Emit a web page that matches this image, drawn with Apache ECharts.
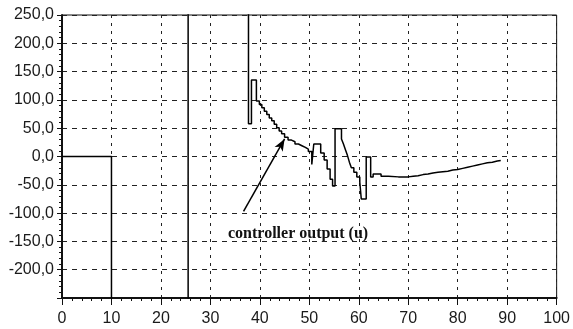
<!DOCTYPE html>
<html>
<head>
<meta charset="utf-8">
<style>
  html, body { margin: 0; padding: 0; background: #fff; }
  #chart { width: 573px; height: 329px; }
</style>
<script src="https://cdn.jsdelivr.net/npm/echarts@6/dist/echarts.min.js"></script>
</head>
<body>
<div id="chart"></div>
<script>
// controller output u(t): each point is (time, value held from that time on)
var times = [0, 10, 25.5, 37.7, 38.3, 39.3,
  39.9, 40.4, 40.9, 41.4, 41.9, 42.4, 42.9, 43.4, 43.9, 44.4, 45.0,
  45.7, 46.4, 47.1, 47.8, 48.5, 49.2, 49.8,
  50.5, 50.9, 52.3, 53.0, 53.6, 54.2, 54.7, 55.2,
  56.5, 56.9, 57.3, 57.7, 58.1, 58.5, 59.0, 59.6, 60.2, 60.5,
  61.5, 62.4, 62.9, 64.5, 66, 68, 70,
  71, 72, 73, 74, 75, 76, 77, 78, 79, 80, 81, 82, 83, 84, 85, 86, 87, 88, 88.7]
var output = [0, -300, 300, 58, 135, 98,
  92, 86, 80, 74, 68, 63, 57, 51, 45, 40, 34,
  29, 26, 22, 19, 16, 13, 9,
  -14, 22, 6, -6, -22, -40, -52, 49,
  31, 22, 12, 2, -10, -20, -28, -36, -45, -75,
  -1, -36, -31, -35, -36, -36, -35,
  -34, -32, -31, -29, -28, -27, -26, -24, -23, -21, -19, -17, -15, -13, -11, -10, -8, -7, -6]

// annotation arrow, from the label up to the curve
var arrowFrom = [36.7, -97]
var arrowTo = [45.0, 31]
var noteText = 'controller output (u)'

var seriesData = times.map(function (t, i) {
  return [t, output[i]]
})

var chart = echarts.init(document.getElementById('chart'))
chart.setOption({
  animation: false,
  backgroundColor: '#fff',
  grid: {
    left: 62,
    right: 13,
    top: 15,
    bottom: 31,
    show: true,
    borderColor: '#111',
    borderWidth: 1
  },
  xAxis: {
    type: 'value',
    min: 0,
    max: 100,
    interval: 10,
    axisLine: { onZero: false, lineStyle: { color: '#111', width: 2 } },
    axisTick: { length: 7, lineStyle: { color: '#111' } },
    minorTick: { show: true, splitNumber: 5, length: 3, lineStyle: { color: '#111' } },
    axisLabel: {
      color: '#1a1a1a',
      fontFamily: 'Liberation Sans',
      fontSize: 16,
      margin: 13
    },
    splitLine: {
      show: true,
      lineStyle: { color: '#222', type: [3, 5] }
    }
  },
  yAxis: {
    type: 'value',
    min: -250,
    max: 250,
    interval: 50,
    axisLine: { show: true, onZero: false, lineStyle: { color: '#111', width: 2 } },
    axisTick: { show: true, length: 5, lineStyle: { color: '#111' } },
    minorTick: { show: true, splitNumber: 5, length: 3, lineStyle: { color: '#111' } },
    axisLabel: {
      color: '#1a1a1a',
      fontFamily: 'Liberation Sans',
      fontSize: 16,
      margin: 8,
      showMinLabel: false,
      formatter: function (val) {
        return val.toFixed(1).replace('.', ',')
      }
    },
    splitLine: {
      show: true,
      lineStyle: { color: '#222', type: [5, 5] }
    }
  },
  series: [{
    type: 'line',
    step: 'end',
    data: seriesData,
    showSymbol: false,
    clip: true,
    lineStyle: { color: '#000', width: 1.5 },
    markLine: {
      silent: true,
      symbol: ['none', 'arrow'],
      symbolSize: [7, 12],
      label: { show: false },
      lineStyle: { color: '#000', width: 1.5, type: 'solid' },
      data: [[{ coord: arrowFrom }, { coord: arrowTo }]]
    }
  }],
  graphic: [{
    type: 'text',
    left: 228,
    top: 226,
    style: {
      text: noteText,
      fill: '#111',
      font: 'bold 16px "Liberation Serif"'
    }
  }]
})
</script>
</body>
</html>
